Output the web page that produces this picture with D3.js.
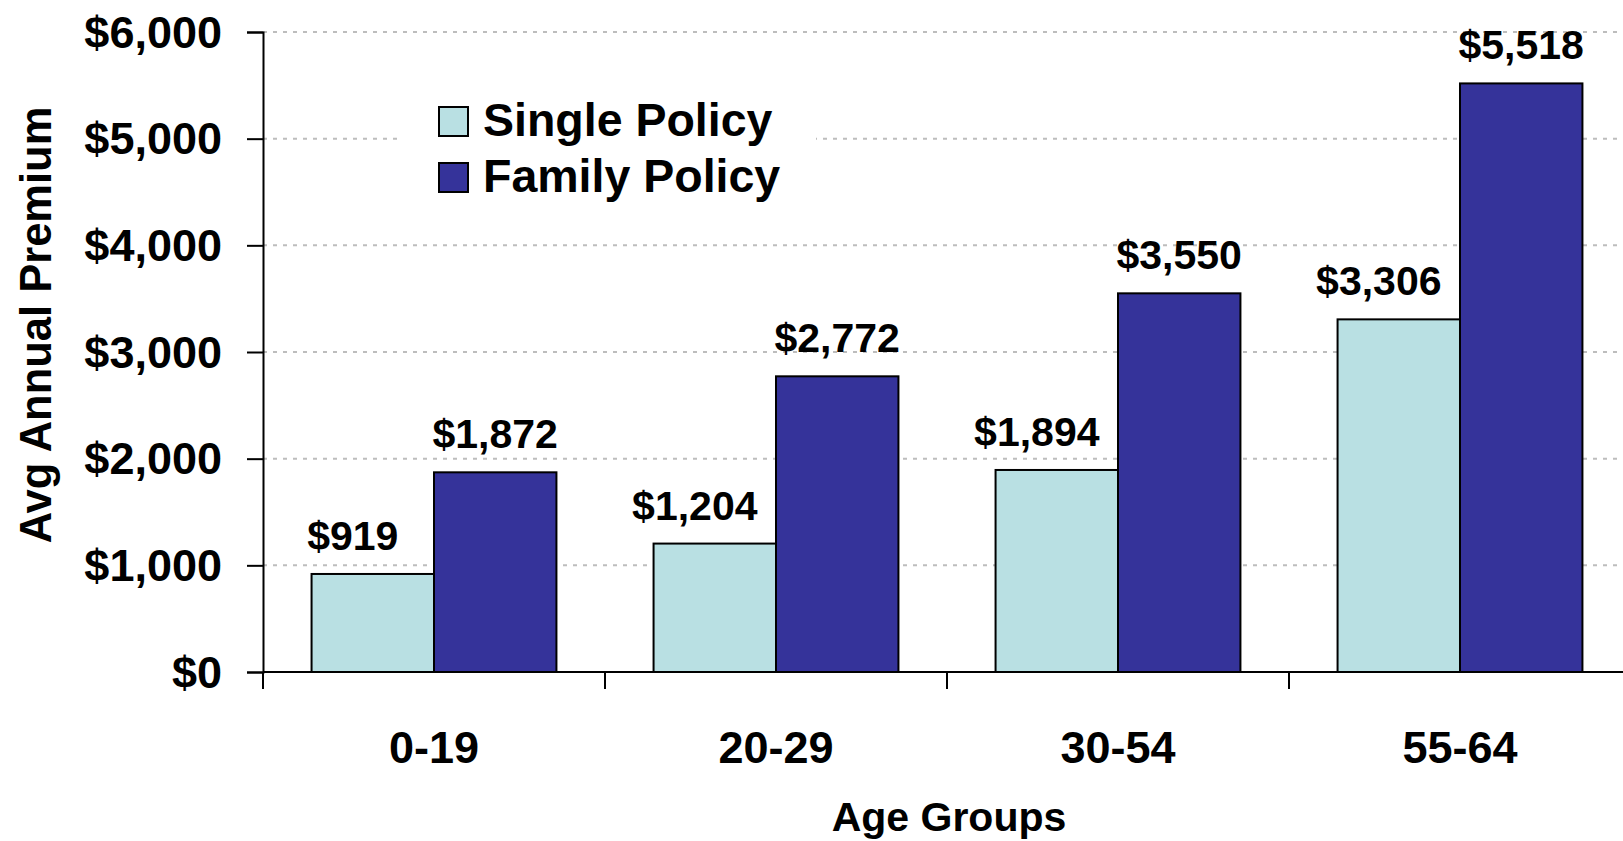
<!DOCTYPE html>
<html><head><meta charset="utf-8">
<script src="https://cdn.jsdelivr.net/npm/d3@7"></script>
<style>
html,body{margin:0;padding:0;background:#fff;}
text{font-family:"Liberation Sans",Arial,sans-serif;font-weight:bold;fill:#000;}
</style></head>
<body>
<svg id="chart" width="1623" height="841"></svg>
<script>
const categories = ["0-19", "20-29", "30-54", "55-64"];
const seriesNames = ["Single Policy", "Family Policy"];
const singleValues = [919, 1204, 1894, 3306];
const familyValues = [1872, 2772, 3550, 5518];
const yTicks = [0, 1000, 2000, 3000, 4000, 5000, 6000];
const colors = ["#b9e0e3", "#35339a"];

(function () {
const svg = d3.select("#chart");
const pLeft = 263, pRight = 1631, pTop = 32, pBottom = 672;
const labelShift = [-20, 0];

const x = d3.scaleBand().domain(categories).range([pLeft, pRight]).paddingInner(0.284).paddingOuter(0.142);
const x1 = d3.scaleBand().domain(seriesNames).range([0, x.bandwidth()]);
const y = d3.scaleLinear().domain([0, 6000]).range([pBottom, pTop]);
const fmt = v => "$" + d3.format(",")(v);

// gridlines
svg.append("g").selectAll("line").data(yTicks.filter(d => d > 0)).join("line")
  .attr("x1", pLeft).attr("x2", 1623).attr("y1", d => y(d)).attr("y2", d => y(d))
  .attr("stroke", "#bdbdbd").attr("stroke-width", 2).attr("stroke-dasharray", "4,6");

// legend background (hides gridline)
svg.append("rect").attr("x", 398).attr("y", 92).attr("width", 418).attr("height", 116).attr("fill", "#fff");

// y axis
const yAxis = d3.axisLeft(y).tickValues(yTicks).tickFormat(fmt).tickSize(16).tickPadding(25);
const gy = svg.append("g").attr("transform", `translate(${pLeft},0)`).call(yAxis);
gy.select(".domain").attr("stroke", "#000").attr("stroke-width", 2);
gy.selectAll(".tick line").attr("stroke", "#000").attr("stroke-width", 2);
gy.selectAll(".tick text").attr("font-size", 45).attr("font-family", "Liberation Sans, Arial, sans-serif").attr("font-weight", "bold").attr("fill", "#000").attr("dy", "0.34em");

// bars
const data = categories.map((c, i) => ({cat: c, vals: [singleValues[i], familyValues[i]]}));
const groups = svg.append("g").selectAll("g").data(data).join("g")
  .attr("transform", d => `translate(${x(d.cat)},0)`);
groups.selectAll("rect").data(d => d.vals.map((v, j) => ({v, s: seriesNames[j], j}))).join("rect")
  .attr("x", d => x1(d.s)).attr("width", x1.bandwidth())
  .attr("y", d => y(d.v)).attr("height", d => y(0) - y(d.v))
  .attr("fill", d => colors[d.j]).attr("stroke", "#000").attr("stroke-width", 2);
groups.selectAll("text").data(d => d.vals.map((v, j) => ({v, s: seriesNames[j], j}))).join("text")
  .attr("x", d => x1(d.s) + x1.bandwidth() / 2 + labelShift[d.j]).attr("y", d => y(d.v) - 24)
  .attr("text-anchor", "middle").attr("font-size", 41).text(d => fmt(d.v));

// x axis
const xb = d3.scaleLinear().domain([0, categories.length]).range([pLeft, pRight]);
const gx = svg.append("g");
gx.append("line").attr("x1", pLeft).attr("x2", 1623).attr("y1", pBottom).attr("y2", pBottom).attr("stroke", "#000").attr("stroke-width", 2);
gx.selectAll("line.t").data(d3.range(categories.length + 1)).join("line").attr("class", "t")
  .attr("x1", d => xb(d)).attr("x2", d => xb(d)).attr("y1", pBottom).attr("y2", pBottom + 17)
  .attr("stroke", "#000").attr("stroke-width", 2);
gx.selectAll("text").data(categories).join("text")
  .attr("x", d => x(d) + x.bandwidth() / 2).attr("y", 763)
  .attr("text-anchor", "middle").attr("font-size", 45).text(d => d);

// axis titles
svg.append("text").attr("x", 949).attr("y", 831).attr("text-anchor", "middle").attr("font-size", 41).text("Age Groups");
svg.append("text").attr("transform", "translate(51,325) rotate(-90)").attr("text-anchor", "middle").attr("font-size", 43.5).text("Avg Annual Premium");

// legend
const lg = svg.append("g");
const legY = [107, 163];
seriesNames.forEach((n, i) => {
  lg.append("rect").attr("x", 439).attr("y", legY[i]).attr("width", 29).attr("height", 29)
    .attr("fill", colors[i]).attr("stroke", "#000").attr("stroke-width", 2);
  lg.append("text").attr("x", 483).attr("y", legY[i] + 29).attr("font-size", 46.5).text(n);
});
})();
</script>
</body></html>
